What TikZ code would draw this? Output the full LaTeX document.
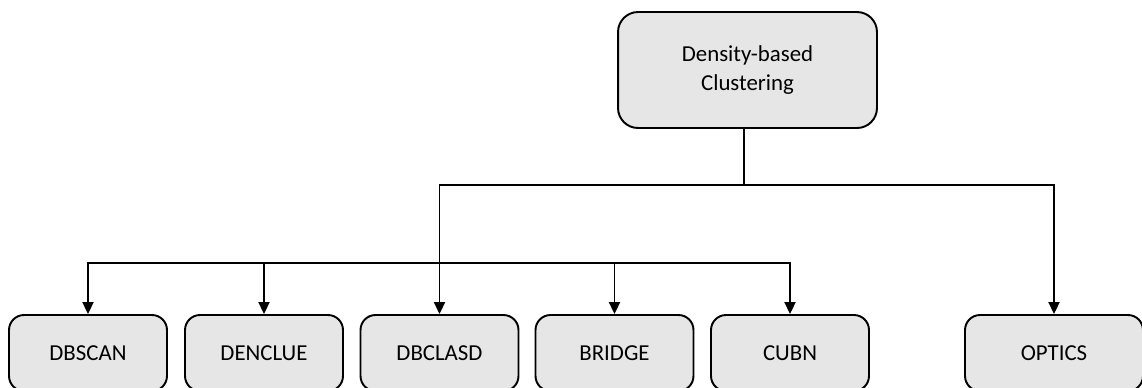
\documentclass[tikz,border=0pt]{standalone}
\usepackage{fontspec}
\setmainfont{Carlito}
\usetikzlibrary{arrows.meta}
\definecolor{boxgray}{HTML}{E6E6E6}
\begin{document}
\begin{tikzpicture}[x=0.02cm,y=-0.02cm,
	box/.style={draw,fill=boxgray,rounded corners=0.3cm,line width=1.1pt,minimum width=3.16cm,minimum height=1.52cm,inner sep=0pt,font=\fontsize{13}{16}\selectfont,align=center},
	arr/.style={line width=1.1pt,-{Triangle[length=2.4mm,width=2.2mm]}}]
		\useasboundingbox (0,0) rectangle (1142,387);
		\node[box,minimum width=5.18cm,minimum height=2.32cm,rounded corners=0.4cm] (dbc) at (747.5,70) {Density-based\\Clustering};
		\node[box] (dbscan) at (88,353) {DBSCAN};
		\node[box] (denclue) at (264,353) {DENCLUE};
		\node[box] (dbclasd) at (439.5,353) {DBCLASD};
		\node[box] (bridge) at (614.5,353) {BRIDGE};
		\node[box] (cubn) at (790,353) {CUBN};
		\node[box,minimum width=3.56cm] (optics) at (1054,353) {OPTICS};
		\coordinate (stem) at (744,185);
		\coordinate (bus) at (439.5,263);
		\draw[line width=1.1pt] (stem |- dbc.south) -- (stem);
		\draw[arr] (stem) -| (dbclasd.north);
		\draw[arr] (stem) -| (optics.north);
		\foreach \n in {dbscan,denclue,bridge,cubn}
			\draw[arr] (bus) -| (\n.north);
\end{tikzpicture}
\end{document}
